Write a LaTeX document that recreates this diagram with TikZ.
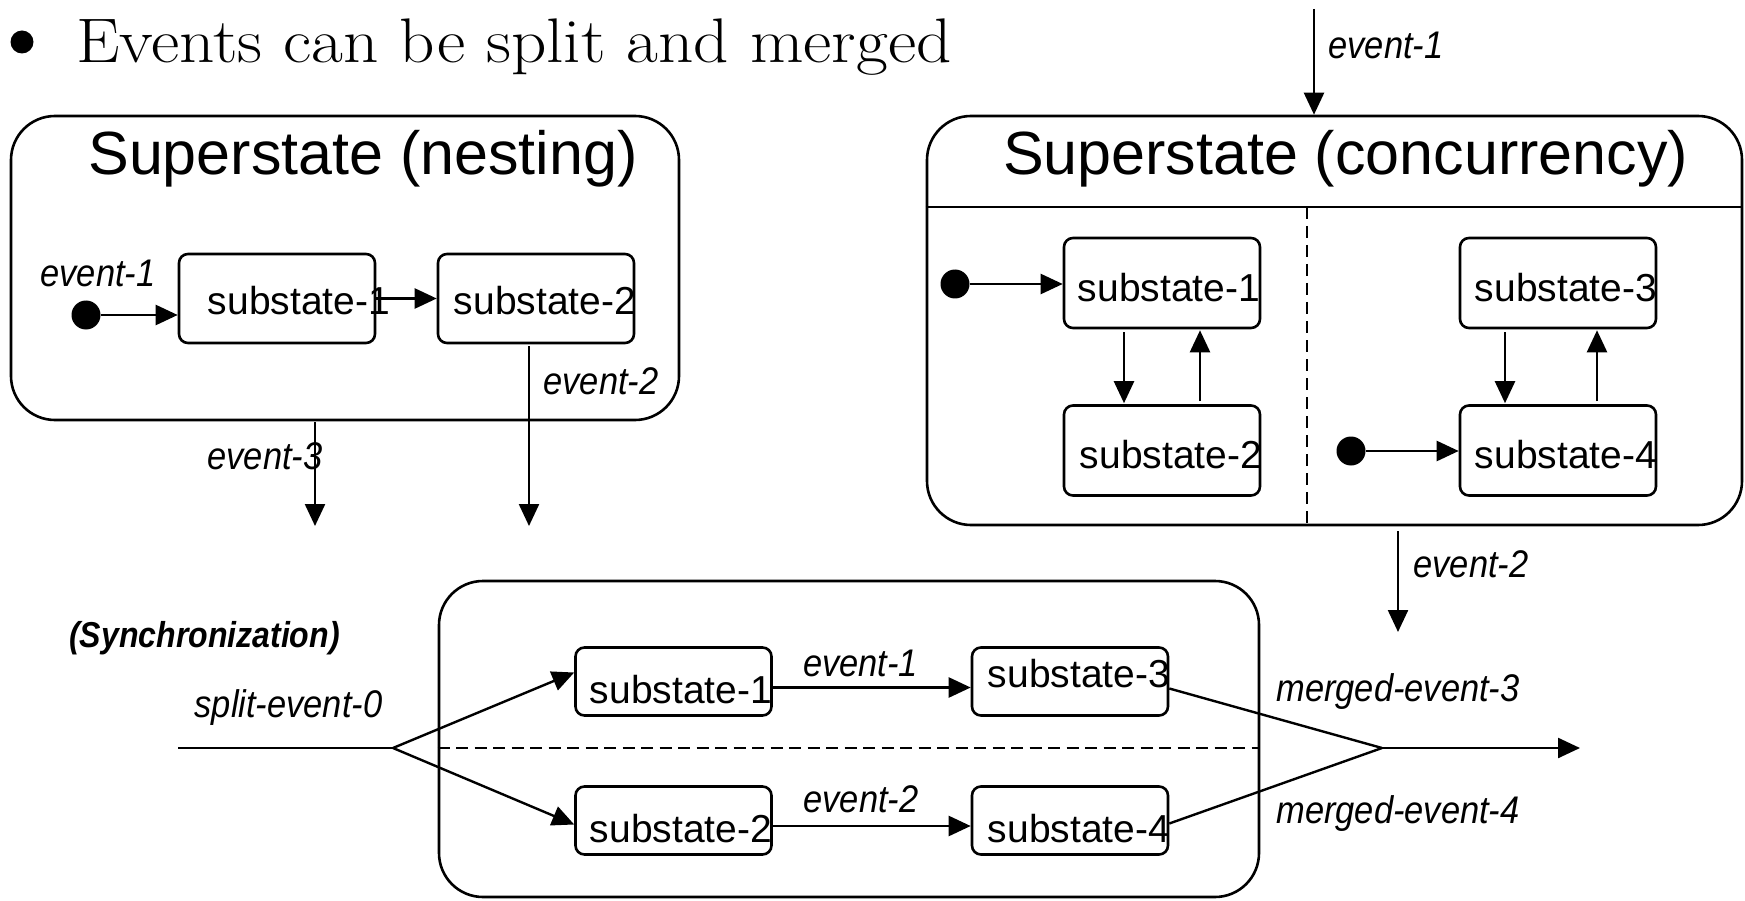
\documentclass[tikz,border=0pt]{standalone}
\usepackage{fontspec}
\newfontfamily\arial{Liberation Sans}
\usetikzlibrary{arrows.meta,calc}

% slightly condensed italic labels
\newcommand{\lb}[1]{\scalebox{0.895}[1]{#1}}

\tikzset{
  superbox/.style={draw, line width=2.6pt, rounded corners=44pt, inner sep=0pt},
  subbox/.style={draw, line width=2.6pt, rounded corners=9pt, minimum width=196pt, inner sep=0pt},
  subtxt/.style={font=\arial\fontsize{39}{44}\selectfont, inner sep=0pt},
  titletxt/.style={font=\arial\fontsize{61}{70}\selectfont, inner sep=0pt},
  lbl/.style={font=\arial\itshape\fontsize{38.5}{44}\selectfont, inner sep=0pt},
  conn/.style={line width=2.4pt},
  arr/.style={conn, -{Triangle[length=22pt,width=20pt]}},
  initdot/.style={circle, fill, minimum size=29pt, inner sep=0pt},
  divdash/.style={conn, dash pattern=on 12pt off 7pt},
}

\begin{document}
\begin{tikzpicture}[x=1pt, y=-1pt]
\useasboundingbox (0,0) rectangle (1745,901);

% heading line
\node[circle, fill, minimum size=23pt, inner sep=0pt] (bullet) at (22,42) {};
\node[anchor=base west, inner sep=0pt, font=\fontsize{63}{70}\selectfont] (heading) at (76,63)
  {\scalebox{1.1}[1]{Events can be split and merged}};

% ---------- nesting superstate ----------
\node[superbox, minimum width=668pt, minimum height=304pt] (ns) at (345,268) {};
\node[titletxt] (nstitle) at (363,159) {Superstate (nesting)};
\node[subbox, minimum height=89pt] (n1) at (277,298.5) {};
\node[subbox, minimum height=89pt] (n2) at (536,298.5) {};
\node[subtxt] (n1t) at (299,301) {substate-1};
\node[subtxt] (n2t) at (545,301) {substate-2};
\node[initdot] (nd) at (86,315) {};
\node[lbl] (ne1) at (98,273) {\lb{event-1}};
\draw[arr] (nd) -- (n1.west |- nd);
\draw[arr] (n1.east) -- (n2.west);
\coordinate (ne2end) at (529,526);
\coordinate (ne3end) at (315,526);
\draw[arr] ([shift={(0,2)}]n2.south -| ne2end) -- (ne2end);
\draw[arr] ([shift={(0,1)}]ns.south -| ne3end) -- (ne3end);
\node[lbl] (ne2) at (601,381) {\lb{event-2}};
\node[lbl] (ne3) at (265,456) {\lb{event-3}};

% ---------- concurrent superstate ----------
\node[superbox, minimum width=815pt, minimum height=409pt] (cs) at (1334.5,320.5) {};
\node[titletxt] (cstitle) at (1345.5,159) {Superstate (concurrency)};
\coordinate (hdiv) at (0,207);
\coordinate (vdiv) at (1307,0);
\draw[conn] (cs.west |- hdiv) -- (cs.east |- hdiv);
\draw[divdash] (vdiv |- hdiv) -- (vdiv |- cs.south);
\node[subbox, minimum height=90pt] (c1) at (1162,283) {};
\node[subbox, minimum height=90pt] (c2) at (1162,450.5) {};
\node[subbox, minimum height=90pt] (c3) at (1558,283) {};
\node[subbox, minimum height=90pt] (c4) at (1558,450.5) {};
\node[subtxt] (c1t) at (1169,288) {substate-1};
\node[subtxt] (c2t) at (1171,455) {substate-2};
\node[subtxt] (c3t) at (1566,288) {substate-3};
\node[subtxt] (c4t) at (1566,455) {substate-4};
\node[initdot] (cd1) at (955,284) {};
\node[initdot] (cd2) at (1351,451) {};
\draw[arr] (cd1) -- (c1.west |- cd1);
\draw[arr] (cd2) -- (c4.west |- cd2);
\draw[arr] ([shift={(-38,3)}]c1.south) -- ([shift={(-38,-1)}]c2.north);
\draw[arr] ([shift={(38,-3)}]c2.north) -- ([shift={(38,1)}]c1.south);
\draw[arr] ([shift={(-53,3)}]c3.south) -- ([shift={(-53,-1)}]c4.north);
\draw[arr] ([shift={(39,-3)}]c4.north) -- ([shift={(39,1)}]c3.south);
\coordinate (ce1start) at (1314,9);
\coordinate (ce2end) at (1398,632);
\draw[arr] (ce1start) -- (cs.north -| ce1start);
\draw[arr] ([shift={(0,5)}]cs.south -| ce2end) -- (ce2end);
\node[lbl] (ce1) at (1386,45) {\lb{event-1}};
\node[lbl] (ce2) at (1471,564) {\lb{event-2}};

% ---------- synchronization ----------
\node[superbox, minimum width=820pt, minimum height=316pt] (ss) at (849,739) {};
\coordinate (sdiv) at (0,748);
\draw[divdash, dash pattern=on 12pt off 6.5pt] (ss.west |- sdiv) -- (ss.east |- sdiv);
\node[subbox, minimum height=68pt] (y1) at (673.5,681.5) {};
\node[subbox, minimum height=68pt] (y2) at (673.5,820.5) {};
\node[subbox, minimum height=68pt] (y3) at (1070,681.5) {};
\node[subbox, minimum height=68pt] (y4) at (1070,820.5) {};
\node[subtxt] (y1t) at (681,690) {substate-1};
\node[subtxt] (y2t) at (681,829) {substate-2};
\node[subtxt] (y3t) at (1079,674) {substate-3};
\node[subtxt] (y4t) at (1079,829) {substate-4};
\coordinate (sp0) at (178,748);
\coordinate (spl) at (393,748);
\coordinate (mg) at (1382,748);
\coordinate (mgend) at (1580,748);
\draw[conn] (sp0) -- (spl);
\draw[arr] (spl) -- ([shift={(0,-9)}]y1.west);
\draw[arr] (spl) -- ([shift={(0,4)}]y2.west);
\draw[arr] ([shift={(0,6)}]y1.east) -- ([shift={(0,6)}]y3.west);
\draw[arr] ([shift={(0,5.5)}]y2.east) -- ([shift={(0,5.5)}]y4.west);
\draw[conn] ([shift={(0,7)}]y3.east) -- (mg);
\draw[conn] ([shift={(0,3)}]y4.east) -- (mg);
\draw[arr] (mg) -- (mgend);
\node[font=\arial\bfseries\itshape\fontsize{36}{42}\selectfont, inner sep=0pt] (sync) at (204.5,638)
  {\scalebox{0.89}[1]{(Synchronization)}};
\node[lbl] (spl0) at (288.5,708) {\lb{split-event-0}};
\node[lbl] (se1) at (860.5,663) {\lb{event-1}};
\node[lbl] (se2) at (861,799) {\lb{event-2}};
\node[lbl] (me3) at (1398,692) {\lb{merged-event-3}};
\node[lbl] (me4) at (1398,814) {\lb{merged-event-4}};
\end{tikzpicture}
\end{document}
